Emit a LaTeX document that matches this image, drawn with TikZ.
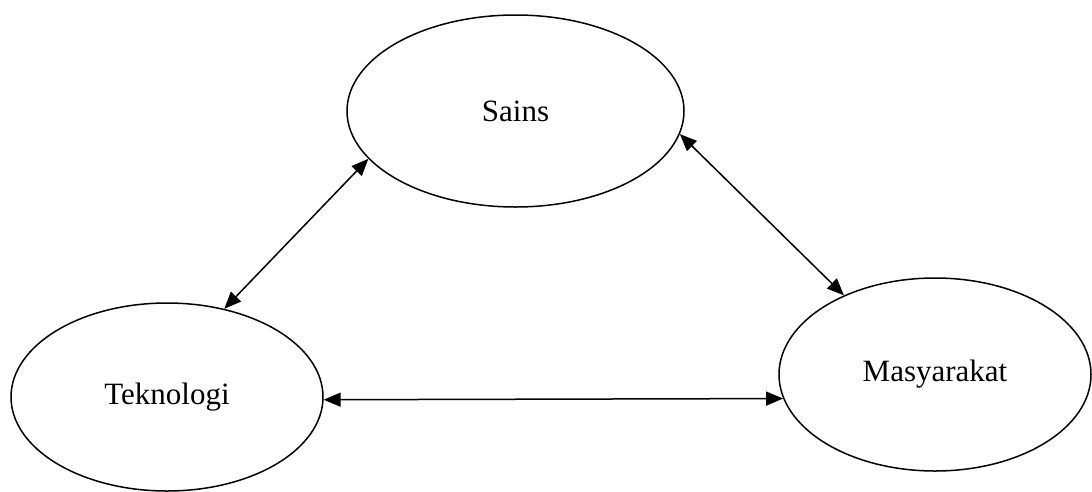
\documentclass[tikz,border=0pt]{standalone}
\usepackage{fontspec}
\setmainfont{Liberation Serif}
\usetikzlibrary{shapes.geometric,arrows.meta}
\begin{document}
\begin{tikzpicture}[x=1pt,y=-1pt,
  oval/.style={draw,ellipse,line width=1.5pt,inner sep=0pt,font=\fontsize{31}{36}\selectfont},
  link/.style={line width=1.5pt,{Triangle[length=17pt,width=14pt]}-{Triangle[length=17pt,width=14pt]}}]
\useasboundingbox (0,0) rectangle (1092,491);
\node[oval,minimum width=337pt,minimum height=192pt] (sains) at (515.5,111) {Sains};
\node[oval,minimum width=312pt,minimum height=188pt] (tek) at (167,397) {Teknologi};
\node[oval,minimum width=312pt,minimum height=193pt] (mas) at (935,374.5) {Masyarakat};
\draw[link] (sains.198.7) -- (tek.57);
\draw[link] (sains.352) -- (mas.139.6);
\draw[link] (tek.-1) -- (mas.189.5);
\end{tikzpicture}
\end{document}
